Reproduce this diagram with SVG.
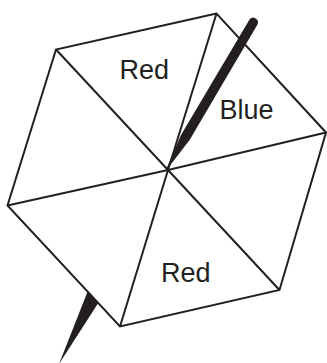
<svg xmlns="http://www.w3.org/2000/svg" width="327" height="363" viewBox="0 0 327 363">
  <style>
    .edge { fill: none; stroke: #231f20; stroke-width: 2; stroke-linejoin: miter; stroke-linecap: butt; }
    .hex { fill: #ffffff; stroke: #231f20; stroke-width: 2; stroke-linejoin: miter; }
    .needle { fill: #231f20; stroke: none; }
    .label { font-family: "Liberation Sans", Arial, sans-serif; font-size: 27px; fill: #231f20; }
  </style>
  <rect width="327" height="363" fill="#ffffff"/>
  <g id="needle-lower">
    <path class="needle" d="M59,364 L91,283 L106,291 Z"/>
  </g>
  <g id="hexagon">
    <polygon class="hex" points="216.5,13.5 56,49.5 7.5,205.5 120,326.5 279.5,290 326,132.5"/>
  </g>
  <g id="connectors">
    <line class="edge" x1="168" y1="170" x2="216.5" y2="13.5"/>
    <line class="edge" x1="168" y1="170" x2="56" y2="49.5"/>
    <line class="edge" x1="168" y1="170" x2="7.5" y2="205.5"/>
    <line class="edge" x1="168" y1="170" x2="120" y2="326.5"/>
    <line class="edge" x1="168" y1="170" x2="279.5" y2="290"/>
    <line class="edge" x1="168" y1="170" x2="326" y2="132.5"/>
  </g>
  <g id="needle-upper">
    <path class="needle" d="M165,172 L181,135.1 L249.5,19.6 A4.7,4.7 0 0 1 257.5,24.4 L189.6,140.1 Z"/>
  </g>
  <g id="label-red-top">
    <text class="label" x="119.5" y="78.5">Red</text>
  </g>
  <g id="label-blue">
    <text class="label" x="219.5" y="118.5">Blue</text>
  </g>
  <g id="label-red-bottom">
    <text class="label" x="161" y="281.5">Red</text>
  </g>
</svg>
